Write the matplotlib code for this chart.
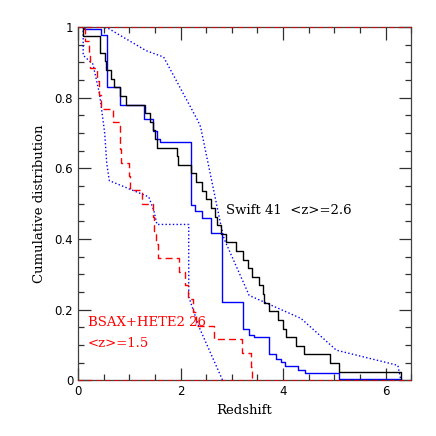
#!/usr/bin/env python3
# -*- coding: utf-8 -*-
"""
Cumulative redshift distributions of Swift and BSAX+HETE2 GRBs.
"""

# %% Import
import sys
import numpy as np
import matplotlib as mpl
from matplotlib import pyplot as plt
from matplotlib.ticker import MultipleLocator, FormatStrFormatter

mpl.use('Agg')

# %% Data
# Swift bursts, 41 redshifts
z_swift = [0.10, 0.42, 0.43, 0.53, 0.54, 0.65, 0.71, 0.81, 0.93, 1.30,
           1.41, 1.46, 1.50, 1.55, 1.93, 1.95, 2.20, 2.31, 2.41, 2.49,
           2.59, 2.67, 2.72, 2.78, 2.88, 3.08, 3.21, 3.31, 3.40, 3.54,
           3.60, 3.63, 3.72, 3.91, 3.99, 4.05, 4.25, 4.40, 4.91, 5.10,
           6.30]

# BSAX+HETE2 bursts, 26 redshifts
z_bsax = [0.14, 0.21, 0.24, 0.37, 0.41, 0.44, 0.68, 0.82, 0.82, 0.83,
          0.99, 1.01, 1.25, 1.46, 1.49, 1.52, 1.56, 1.97, 2.08, 2.15,
          2.25, 2.30, 2.65, 3.19, 3.37, 3.40]

# second sample (blue solid): redshift of each drop and level after it
z_blue = [0.11, 0.44, 0.57, 0.81, 1.28, 1.46, 1.54, 1.60, 2.20, 2.29,
          2.42, 2.60, 2.80, 3.21, 3.34, 3.44, 3.73, 3.86, 3.96, 4.03,
          4.29, 4.42, 5.10, 6.30]
f_blue = [0.995, 0.978, 0.830, 0.780, 0.740, 0.706, 0.683, 0.675, 0.496,
          0.480, 0.458, 0.416, 0.222, 0.146, 0.128, 0.122, 0.074, 0.061,
          0.052, 0.040, 0.028, 0.021, 0.004, 0.0]

# model curves (blue dotted)
z_mod1 = [0.45, 0.58, 1.33, 1.67, 2.33, 2.39, 2.78, 2.85, 3.34, 4.35,
          5.04, 6.24, 6.30]
f_mod1 = [1.0, 0.997, 0.933, 0.915, 0.737, 0.718, 0.444, 0.40, 0.24,
          0.175, 0.085, 0.042, 0.0]
z_mod2 = [0.10, 0.10, 0.29, 0.42, 0.52, 0.56, 0.61, 1.38, 1.48, 1.54,
          2.16, 2.16, 2.36, 2.82]
f_mod2 = [1.0, 0.92, 0.895, 0.81, 0.70, 0.614, 0.565, 0.519, 0.48, 0.441,
          0.441, 0.236, 0.151, 0.0]


# %% cumulative steps
def cum_steps(z):
    z = np.sort(np.asarray(z))
    n = len(z)
    xs = np.concatenate(([z[0]], z))
    ys = np.concatenate(([1.0], 1.0 - np.arange(1, n + 1) / n))
    return xs, ys


# %% plot
def plot_cum(pngfile):
    fig = plt.figure(figsize=(4.36, 4.36), dpi=100)
    ax = fig.add_axes([0.179, 0.128, 0.764, 0.810])

    # model curves
    ax.plot(z_mod1, f_mod1, color='blue', ls=':', lw=1.0)
    ax.plot(z_mod2, f_mod2, color='blue', ls=':', lw=1.0)

    # blue sample
    xb = np.concatenate(([z_blue[0]], z_blue))
    yb = np.concatenate(([1.0], f_blue))
    ax.step(xb, yb, where='post', color='blue', lw=1.0)

    # Swift
    xs, ys = cum_steps(z_swift)
    ax.step(xs, ys, where='post', color='black', lw=1.0)

    # BSAX+HETE2
    xr, yr = cum_steps(z_bsax)
    ax.step(xr, yr, where='post', color='red', lw=1.0, dashes=(5, 3))
    for yl in (0, 1):
        ax.axhline(yl, color='#c01010', lw=0.8, dashes=(5, 3), zorder=5,
                   clip_on=False)

    ax.set_xlim(0, 6.5)
    ax.set_ylim(0, 1)

    # ticks
    ax.xaxis.set_major_locator(MultipleLocator(2))
    ax.xaxis.set_minor_locator(MultipleLocator(0.5))
    ax.yaxis.set_major_locator(MultipleLocator(0.2))
    ax.yaxis.set_minor_locator(MultipleLocator(0.05))
    ax.yaxis.set_major_formatter(FormatStrFormatter('%g'))
    ax.xaxis.set_major_formatter(FormatStrFormatter('%g'))
    ax.tick_params(which='both', direction='in', top=True, right=True,
                   width=0.9, labelsize=8.5, colors='#303030',
                   labelcolor='black')
    ax.tick_params(which='major', length=9)
    ax.tick_params(which='minor', length=4.5)
    for s in ax.spines.values():
        s.set_linewidth(0.9)
        s.set_color('#404040')

    # labels
    ax.set_xlabel('Redshift', family='DejaVu Serif', fontsize=9.5,
                  labelpad=4)
    ax.set_ylabel('Cumulative distribution', family='DejaVu Serif',
                  fontsize=9.5, labelpad=6)

    ax.text(2.88, 0.48, 'Swift 41  <z>=2.6', family='DejaVu Serif',
            fontsize=9.5, va='center', ha='left')
    ax.text(0.19, 0.164, 'BSAX+HETE2 26', family='DejaVu Serif',
            fontsize=9.5, va='center', ha='left', color='red')
    ax.text(0.19, 0.105, '<z>=1.5', family='DejaVu Serif',
            fontsize=9.5, va='center', ha='left', color='red')

    plt.savefig(pngfile, dpi=100)
    plt.close()


# %% Main
def main(argv=None):
    plot_cum('out.png')


# %% main
if __name__ == "__main__":
    sys.exit(main())
